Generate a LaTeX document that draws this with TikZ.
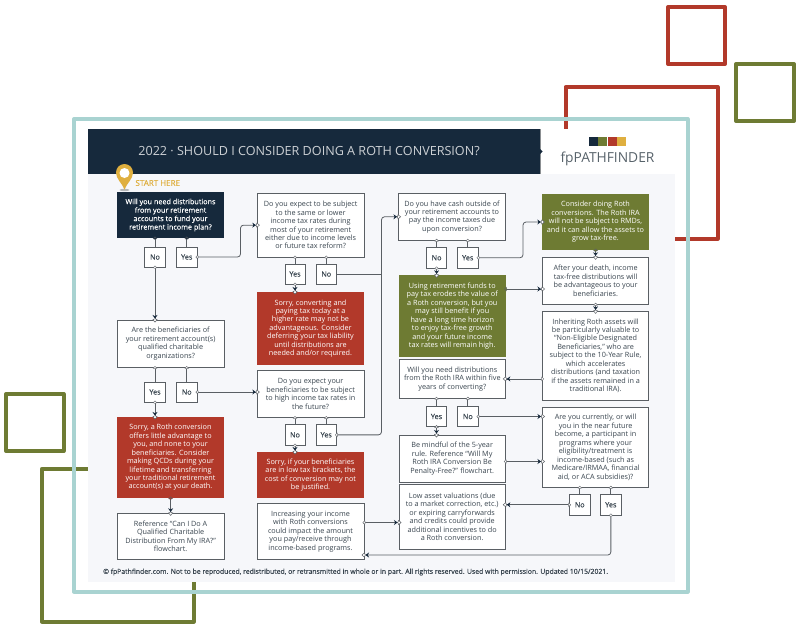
\documentclass[tikz,border=0pt]{standalone}
\usepackage{fontspec}
\setmainfont{Open Sans}
\newfontfamily\semi[FakeBold=0.3]{Open Sans}
\usetikzlibrary{arrows.meta,calc}
\definecolor{navy}{HTML}{16293C}
\definecolor{brick}{HTML}{B2392A}
\definecolor{olive}{HTML}{6E7B33}
\definecolor{gold}{HTML}{DFAF3F}
\definecolor{teal2}{HTML}{A9D3D1}
\definecolor{panel}{HTML}{F6F7FA}
\definecolor{inkc}{HTML}{3A4650}
\definecolor{linec}{HTML}{5A5F64}
\newcommand\bx[7]{\pgfmathsetmacro\bw{#4-#3}\pgfmathsetmacro\bh{#6-#5}\pgfmathsetmacro\bcx{(#3+#4)/2}\pgfmathsetmacro\bcy{(#5+#6)/2}\node[#1,minimum width=\bw pt,minimum height=\bh pt] (#2) at (\bcx,\bcy) {#7};}
\tikzset{
  txt/.style={font=\fontsize{7.25}{8.45}\selectfont,align=center,inner sep=0pt,outer sep=0pt},
  qbox/.style={txt,draw=linec,line width=.85pt,fill=white,text=inkc},
  navybox/.style={txt,fill=navy,text=white,font=\fontsize{7.25}{8.45}\selectfont\semi},
  redbox/.style={txt,fill=brick,text=white},
  greenbox/.style={txt,fill=olive,text=white},
  ansbox/.style={txt,draw=linec,line width=.85pt,fill=white,text=inkc,font=\fontsize{7.25}{8.45}\selectfont\semi},
  cn/.style={draw=linec,line width=.8pt,rounded corners=3pt},
  arr/.style={cn,shorten >=-2.5pt,shorten <=-1.5pt,arrows={{Kite[length=3pt,width=4.5pt,fill=#1,color=linec,line width=.4pt]}-{Stealth[length=3.5pt,width=5pt,fill=navy,color=navy]Kite[length=4pt,width=5pt,fill=white,color=linec,line width=.5pt]}}},
  arr/.default=white,
  stub/.style={cn,shorten <=-1.5pt,arrows={{Kite[length=3pt,width=4.5pt,fill=#1,color=linec,line width=.4pt]}-}},
  stub/.default=white,
  decor/.style={line width=4pt,line join=round}
}
\begin{document}
\begin{tikzpicture}[x=1pt,y=-1pt]
\useasboundingbox (0,0) rectangle (800,627);
% decoration
\draw[decor,draw=brick] (668,7) rectangle (725,64);
\draw[decor,draw=olive] (736,64) rectangle (794,121);
\draw[decor,draw=brick] (565.5,128.5) -- (565.5,87) -- (717.5,87) -- (717.5,238.7) -- (675,238.7);
\draw[decor,draw=olive] (6,394) rectangle (63.5,451);
\draw[decor,draw=olive] (88,469) -- (41.7,469) -- (41.7,621.5) -- (193.7,621.5) -- (193.7,582);
\draw[line width=4pt,draw=teal2,line join=round] (74,119) rectangle (687.5,591.5);
% panel and header
\fill[panel] (88,174) rectangle (675,582);
\fill[navy] (88,129) rectangle (540,174);
\draw[line width=.8pt,draw=linec!70] (540,129) -- (540,174);
\fill[navy] (540,149) -- (542.5,151.5) -- (540,154) -- cycle;
\node[inner sep=0pt,text=white!78!navy,font=\fontsize{12.6}{14}\selectfont] (title) at (309,151.5) {2022 · SHOULD I CONSIDER DOING A ROTH CONVERSION?};
\fill[navy] (589,137) rectangle (597.5,146);
\fill[olive] (597.5,137) rectangle (607,146);
\fill[brick] (607.5,137) rectangle (616.5,146);
\fill[gold] (617,137) rectangle (626,146);
\node[inner sep=0pt,text=inkc!85!white,font=\fontsize{13.8}{16}\selectfont] (logo) at (607.5,159) {fpPATHFINDER};
% pin
\fill[linec!45] (124.5,190) ellipse (5 and 1.2);
\fill[gold] (124.5,189.5) .. controls (122,183) and (116,179) .. (116,172.5) arc[start angle=180,end angle=360,radius=8.5] .. controls (133,179) and (127,183) .. (124.5,189.5) -- cycle;
\fill[white] (124.5,173) circle (5);
\node[anchor=west,inner sep=0pt,text=gold,font=\fontsize{8}{9}\selectfont\semi] (start) at (135.3,183) {START HERE};
% boxes
\bx{navybox}{A}{117}{224}{192}{238}{Will you need distributions\\from your retirement\\accounts to fund your\\retirement income plan?}
\bx{ansbox}{no1}{144.5}{165.5}{247}{267}{No}
\bx{ansbox}{yes1}{176.5}{197}{247}{267}{Yes}
\bx{qbox}{B}{257.3}{364}{193.3}{257}{Do you expect to be subject\\to the same or lower\\income tax rates during\\most of your retirement\\either due to income levels\\or future tax reform?}
\bx{ansbox}{yes2}{285}{305}{264}{284}{Yes}
\bx{ansbox}{no2}{316}{336.5}{264}{284}{No}
\bx{redbox}{R1}{257}{364}{292}{365}{Sorry, converting and\\paying tax today at a\\higher rate may not be\\advantageous. Consider\\deferring your tax liability\\until distributions are\\needed and/or required.}
\bx{qbox}{C}{117.3}{224}{320}{367.5}{Are the beneficiaries of\\your retirement account(s)\\qualified charitable\\organizations?}
\bx{ansbox}{yes3}{144.5}{165.5}{382}{402}{Yes}
\bx{ansbox}{no3}{176.5}{197}{382}{402}{No}
\bx{qbox}{D}{257.3}{364}{370.3}{417.5}{Do you expect your\\beneficiaries to be subject\\to high income tax rates in\\the future?}
\bx{ansbox}{no4}{285}{305}{424.7}{445}{No}
\bx{ansbox}{yes4}{316}{336.5}{424.7}{445}{Yes}
\bx{redbox}{R2}{257}{364}{452}{498}{Sorry, if your beneficiaries\\are in low tax brackets, the\\cost of conversion may not\\be justified.}
\bx{redbox}{R3}{117}{224}{417}{498}{Sorry, a Roth conversion\\offers little advantage to\\you, and none to your\\beneficiaries. Consider\\making QCDs during your\\lifetime and transferring\\your traditional retirement\\account(s) at your death.}
\bx{qbox}{Ref}{117.3}{224}{513.3}{559.5}{Reference “Can I Do A\\Qualified Charitable\\Distribution From My IRA?”\\flowchart.}
\bx{qbox}{Inc}{257}{364}{503.3}{559.7}{Increasing your income\\with Roth conversions\\could impact the amount\\you pay/receive through\\income-based programs.}
\bx{qbox}{E}{398.5}{505.5}{193.3}{240.3}{Do you have cash outside of\\your retirement accounts to\\pay the income taxes due\\upon conversion?}
\bx{ansbox}{no5}{426.5}{446.7}{247.5}{268}{No}
\bx{ansbox}{yes5}{457.5}{478}{247.5}{268}{Yes}
\bx{greenbox}{G1}{399}{505.5}{275.3}{356.7}{Using retirement funds to\\pay tax erodes the value of\\a Roth conversion, but you\\may still benefit if you\\have a long time horizon\\to enjoy tax-free growth\\and your future income\\tax rates will remain high.}
\bx{greenbox}{G2}{542.3}{648.7}{194}{250}{Consider doing Roth\\conversions. The Roth IRA\\will not be subject to RMDs,\\and it can allow the assets to\\grow tax-free.}
\bx{qbox}{F}{542.5}{648.7}{257.3}{304.3}{After your death, income\\tax-free distributions will\\be advantageous to your\\beneficiaries.}
\bx{qbox}{G}{542.5}{648.7}{311.3}{400}{Inheriting Roth assets will\\be particularly valuable to\\“Non-Eligible Designated\\Beneficiaries,” who are\\subject to the 10-Year Rule,\\which accelerates\\distributions (and taxation\\if the assets remained in a\\traditional IRA).}
\bx{qbox}{H}{399.3}{505.3}{359.5}{398.3}{Will you need distributions\\from the Roth IRA within five\\years of converting?}
\bx{ansbox}{yes6}{426.3}{446.7}{406.3}{426.7}{Yes}
\bx{ansbox}{no6}{457.7}{478}{406.3}{426.7}{No}
\bx{qbox}{I}{399}{505.3}{435}{482}{Be mindful of the 5-year\\rule. Reference “Will My\\Roth IRA Conversion Be\\Penalty-Free?” flowchart.}
\bx{qbox}{J}{399}{505.3}{484.5}{549}{Low asset valuations (due\\to a market correction, etc.)\\or expiring carryforwards\\and credits could provide\\additional incentives to do\\a Roth conversion.}
\bx{qbox}{K}{542.5}{648.7}{407.3}{487.3}{Are you currently, or will\\you in the near future\\become, a participant in\\programs where your\\eligibility/treatment is\\income-based (such as\\Medicare/IRMAA, financial\\aid, or ACA subsidies)?}
\bx{ansbox}{no7}{569.5}{590}{494.5}{515}{No}
\bx{ansbox}{yes7}{600.7}{621}{494.5}{515}{Yes}
\node[anchor=west,inner sep=0pt,text=inkc,font=\fontsize{6.86}{8}\selectfont\semi] (foot) at (103,572) {© fpPathfinder.com. Not to be reproduced, redistributed, or retransmitted in whole or in part. All rights reserved. Used with permission. Updated 10/15/2021.};
% connectors
\coordinate (spine) at (381.5,0);
\coordinate (elbowB) at (240.5,0);
\coordinate (elbowG) at (523,0);
\draw[stub=navy] (A.south -| no1.north) -- (no1.north);
\draw[stub=navy] (A.south -| yes1.north) -- (yes1.north);
\draw[arr] (no1.south) -- (no1.south |- C.north);
\draw[arr] (yes1.east) -| (elbowB |- B.west) -- (B.west);
\draw[stub] (B.south -| yes2.north) -- (yes2.north);
\draw[stub] (B.south -| no2.north) -- (no2.north);
\draw[arr] (yes2.south) -- (yes2.south |- R1.north);
\draw[cn] (no2.east) -- (no2.east -| spine);
\draw[stub] (C.south -| yes3.north) -- (yes3.north);
\draw[stub] (C.south -| no3.north) -- (no3.north);
\draw[arr] (yes3.south) -- (yes3.south |- R3.north);
\draw[arr] (no3.east) -- (no3.east -| D.west);
\draw[stub] (D.south -| no4.north) -- (no4.north);
\draw[stub] (D.south -| yes4.north) -- (yes4.north);
\draw[arr] (no4.south) -- (no4.south |- R2.north);
\draw[arr] (yes4.east) -| (spine |- E.west) -- (E.west);
\draw[arr=brick] (R3.south) -- (Ref.north);
\draw[arr] (Inc.east |- 0,522.5) -- (J.west |- 0,522.5);
\draw[stub] (E.south -| no5.north) -- (no5.north);
\draw[stub] (E.south -| yes5.north) -- (yes5.north);
\draw[arr] (no5.south) -- (no5.south |- G1.north);
\draw[arr] (yes5.east) -| (elbowG |- G2.west) -- (G2.west);
\draw[arr=olive] (G1.east |- 0,289) -- (F.west |- 0,289);
\draw[arr=olive] (G2.south) -- (F.north);
\draw[arr] (F.south) -- (G.north);
\draw[arr] (G.west |- H.east) -- (H.east);
\draw[stub] (H.south -| yes6.north) -- (yes6.north);
\draw[stub] (H.south -| no6.north) -- (no6.north);
\draw[arr] (yes6.south) -- (yes6.south |- I.north);
\draw[arr] (no6.east) -- (no6.east -| K.west);
\draw[arr] (I.east |- 0,461.5) -- (K.west |- 0,461.5);
\draw[stub] (K.south -| no7.north) -- (no7.north);
\draw[stub] (K.south -| yes7.north) -- (yes7.north);
\draw[arr] (no7.west) -- (no7.west -| J.east);
\draw[arr] (yes7.south) |- (Inc.east |- 0,555);
\end{tikzpicture}
\end{document}
